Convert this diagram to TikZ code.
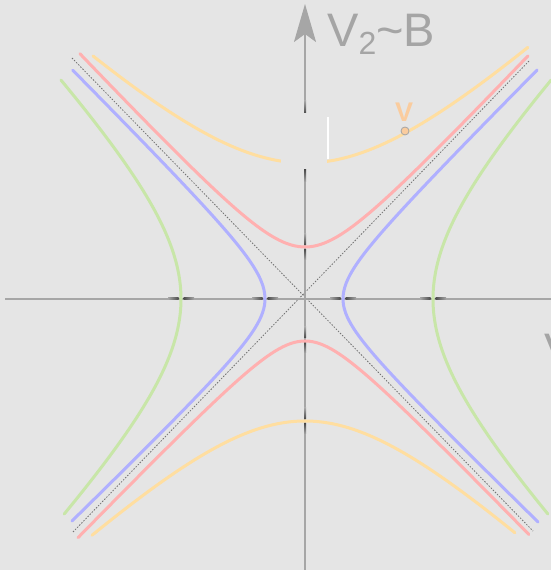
\documentclass[tikz,border=0pt]{standalone}
\usepackage{fontspec}
\setmainfont{Liberation Sans}
\usetikzlibrary{arrows.meta}
\definecolor{bg}{RGB}{229,229,229}
\definecolor{axisgray}{RGB}{166,166,166}
\definecolor{labgray}{RGB}{165,165,165}
\definecolor{cyellow}{RGB}{255,222,160}
\definecolor{cred}{RGB}{255,176,176}
\definecolor{cblue}{RGB}{176,176,255}
\definecolor{cgreen}{RGB}{200,230,168}
\definecolor{corange}{RGB}{250,204,158}
\begin{document}
\begin{tikzpicture}[x=100pt,y=100pt,
  curve/.style={line width=3pt, line cap=round},
  axisline/.style={axisgray, line width=2pt},
  asym/.style={black!55, line width=0.8pt, dash pattern=on 1.5pt off 1.5pt},
  biglabel/.style={anchor=base west, inner sep=0pt, text=labgray, font=\fontsize{47}{52}\selectfont}]
\useasboundingbox (0,0) rectangle (5.51,5.70);
\clip (0,0) rectangle (5.51,5.70);
\fill[bg] (0,0) rectangle (5.51,5.70);
\coordinate (O) at (3.05,2.71);
% asymptotes
\coordinate (a1) at (0.72,5.12);
\coordinate (a2) at (5.33,0.39);
\coordinate (a3) at (0.73,0.38);
\coordinate (a4) at (5.30,5.10);
\draw[asym] (a1) -- (a2);
\draw[asym] (a3) -- (a4);
% axes
\coordinate (hl) at (0.05,2.71);
\coordinate (hr) at (5.51,2.71);
\coordinate (vb) at (3.05,0);
\coordinate (vt) at (3.05,5.66);
\draw[axisline] (hl) -- (hr);
\draw[axisline, -{Stealth[length=38pt,width=22pt,inset=8pt]}] (vb) -- (vt);
% dark marks on axes
\foreach \c in {1.81,2.65,3.43,4.33}{
  \shade[left color=axisgray, right color=black!70] (\c-0.13,2.70) rectangle (\c-0.025,2.72);
  \shade[left color=black!70, right color=axisgray] (\c+0.025,2.70) rectangle (\c+0.13,2.72);
}
\foreach \c in {3.23,2.30,1.49}{
  \shade[bottom color=black!70, top color=axisgray] (3.04,\c+0.025) rectangle (3.06,\c+0.13);
  \shade[top color=black!70, bottom color=axisgray] (3.04,\c-0.13) rectangle (3.06,\c-0.025);
}
% hyperbolas
\begin{scope}[shift={(O)}]
\draw[curve,cyellow] plot[domain=-2.12:2.23, samples=120, smooth] (\x,{sqrt(1.36^2+(0.95*\x)^2)});
\draw[curve,cyellow] plot[domain=-2.13:2.10, samples=120, smooth] (\x,{-sqrt(1.22^2+(0.95*\x)^2)});
\draw[curve,cred] plot[domain=-2.25:2.23, samples=120, smooth] (\x,{sqrt(0.52^2+(1.065*\x)^2)});
\draw[curve,cred] plot[domain=-2.27:2.24, samples=120, smooth] (\x,{-sqrt(0.42^2+(1.035*\x)^2)});
\draw[curve,cblue] plot[domain=-2.22:2.29, samples=120, smooth] ({-sqrt(0.40^2+((1.0+0.034*(\x<0))*\x)^2)},\x);
\draw[curve,cblue] plot[domain=-2.23:2.29, samples=120, smooth] ({sqrt(0.38^2+((1.0+0.031*(\x<0))*\x)^2)},\x);
\draw[curve,cgreen] plot[domain=-2.15:2.19, samples=120, smooth] ({-sqrt(1.24^2+(0.96*\x)^2)},\x);
\draw[curve,cgreen] plot[domain=-2.15:2.19, samples=120, smooth] ({sqrt(1.28^2+(0.96*\x)^2)},\x);
\end{scope}
% occluding box with white bar
\fill[bg] (2.81,4.00) rectangle (3.27,4.57);
\shade[bottom color=black!70, top color=axisgray] (3.04,4.57) rectangle (3.06,4.69);
\shade[top color=black!70, bottom color=axisgray] (3.04,3.88) rectangle (3.06,4.00);
\coordinate (wb) at (3.28,4.11);
\coordinate (wt) at (3.28,4.53);
\draw[white, line width=2pt] (wb) -- (wt);
% point v
\node[circle, draw=labgray, fill=corange, minimum size=8pt, inner sep=0pt, line width=0.8pt] (pt) at (4.05,4.39) {};
\node[anchor=base, inner sep=0pt, text=corange, font=\bfseries\fontsize{27}{30}\selectfont] (ptlab) at (4.04,4.48) {V};
% labels
\node[biglabel] (vlab) at (3.27,5.23) {V\raisebox{-8pt}{\fontsize{32}{35}\selectfont 2}\textasciitilde B};
\node[biglabel] (hlab) at (5.44,2.03) {V};
\end{tikzpicture}
\end{document}
